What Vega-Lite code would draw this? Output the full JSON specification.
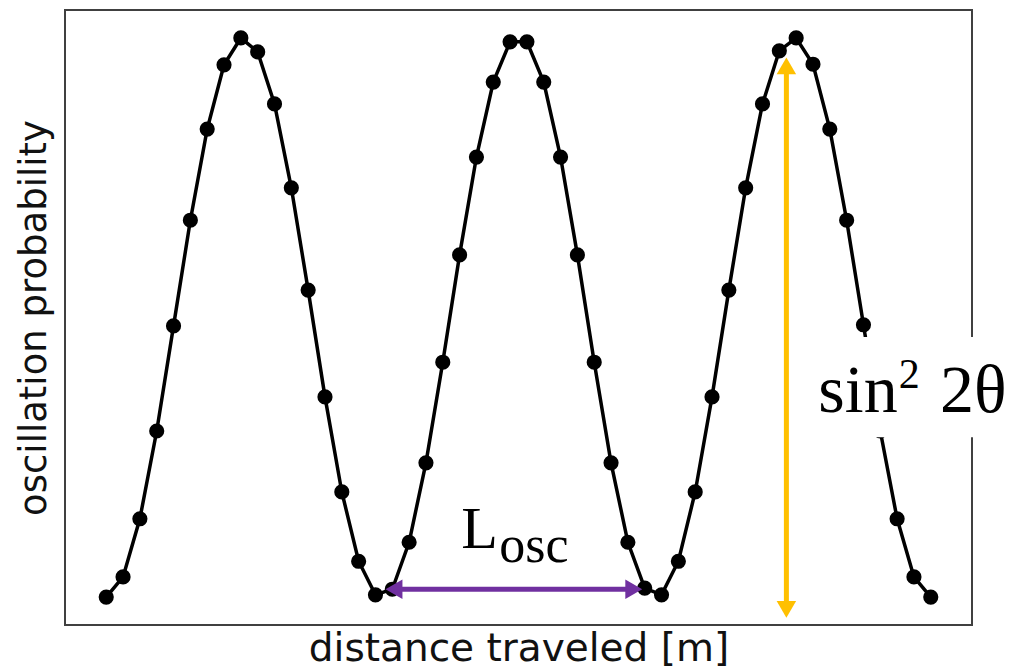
{
  "$schema": "https://vega.github.io/schema/vega-lite/v6.json",
  "width": 907,
  "height": 615,
  "autosize": {"type": "none"},
  "padding": {"left": 65, "top": 10, "right": 38, "bottom": 44},
  "background": "white",
  "config": {
    "view": {"stroke": "#404040", "strokeWidth": 2},
    "axis": {"ticks": false, "labels": false, "domain": false, "grid": false, "titleFont": "DejaVu Sans", "titleFontWeight": "normal", "titleColor": "#111"},
    "axisX": {"titleFontSize": 39, "titlePadding": 4},
    "axisY": {"titleFontSize": 37, "titlePadding": 12}
  },
  "datasets": {
    "curve": [
      {"d": 0, "p": 0.000}, {"d": 1, "p": 0.036}, {"d": 2, "p": 0.140}, {"d": 3, "p": 0.297}, {"d": 4, "p": 0.485},
      {"d": 5, "p": 0.674}, {"d": 6, "p": 0.837}, {"d": 7, "p": 0.952}, {"d": 8, "p": 1.000}, {"d": 9, "p": 0.975},
      {"d": 10, "p": 0.882}, {"d": 11, "p": 0.732}, {"d": 12, "p": 0.549}, {"d": 13, "p": 0.358}, {"d": 14, "p": 0.188},
      {"d": 15, "p": 0.064}, {"d": 16, "p": 0.004}, {"d": 17, "p": 0.014}, {"d": 18, "p": 0.098}, {"d": 19, "p": 0.240},
      {"d": 20, "p": 0.420}, {"d": 21, "p": 0.612}, {"d": 22, "p": 0.787}, {"d": 23, "p": 0.921}, {"d": 24, "p": 0.993},
      {"d": 25, "p": 0.993}, {"d": 26, "p": 0.921}, {"d": 27, "p": 0.787}, {"d": 28, "p": 0.612}, {"d": 29, "p": 0.420},
      {"d": 30, "p": 0.240}, {"d": 31, "p": 0.098}, {"d": 32, "p": 0.016}, {"d": 33, "p": 0.004}, {"d": 34, "p": 0.064},
      {"d": 35, "p": 0.188}, {"d": 36, "p": 0.358}, {"d": 37, "p": 0.549}, {"d": 38, "p": 0.732}, {"d": 39, "p": 0.882},
      {"d": 40, "p": 0.977}, {"d": 41, "p": 1.000}, {"d": 42, "p": 0.953}, {"d": 43, "p": 0.837}, {"d": 44, "p": 0.674},
      {"d": 45, "p": 0.487}, {"d": 46, "p": 0.297}, {"d": 47, "p": 0.140}, {"d": 48, "p": 0.036}, {"d": 49, "p": 0.000}
    ],
    "box": [{"d": 41.73, "d2": 53.75, "p": 0.465, "p2": 0.286}],
    "sinLabel": [{"d": 42.32, "p": 0.331, "t": "sin"}],
    "supLabel": [{"d": 47.1, "p": 0.374, "t": "2"}],
    "thetaLabel": [{"d": 49.55, "p": 0.331, "t": "2θ"}],
    "purpleLine": [{"d": 17.3, "d2": 31.2, "p": 0.014}],
    "purpleLeft": [{"d": 17.1, "p": 0.014}],
    "purpleRight": [{"d": 31.35, "p": 0.014}],
    "yellowLine": [{"d": 40.42, "p": 0.945, "p2": -0.015}],
    "yellowUp": [{"d": 40.42, "p": 0.95}],
    "yellowDown": [{"d": 40.42, "p": -0.022}],
    "lLabel": [{"d": 21.1, "p": 0.088, "t": "L"}],
    "oscLabel": [{"d": 23.35, "p": 0.063, "t": "osc"}]
  },
  "encoding": {
    "x": {"field": "d", "type": "quantitative", "title": "distance traveled [m]", "scale": {"domain": [-2.45, 51.45], "nice": false, "zero": false}},
    "y": {"field": "p", "type": "quantitative", "title": "oscillation probability", "scale": {"domain": [-0.05, 1.05], "nice": false, "zero": false}}
  },
  "layer": [
    {"data": {"name": "curve"}, "mark": {"type": "line", "color": "black", "strokeWidth": 3.5}},
    {"data": {"name": "curve"}, "mark": {"type": "point", "filled": true, "color": "black", "size": 230, "opacity": 1}},
    {"data": {"name": "purpleLine"}, "mark": {"type": "rule", "color": "#7030A0", "strokeWidth": 5}, "encoding": {"x2": {"field": "d2"}}},
    {"data": {"name": "purpleLeft"}, "mark": {"type": "point", "shape": "triangle-left", "filled": true, "color": "#7030A0", "size": 380, "opacity": 1}},
    {"data": {"name": "purpleRight"}, "mark": {"type": "point", "shape": "triangle-right", "filled": true, "color": "#7030A0", "size": 380, "opacity": 1}},
    {"data": {"name": "yellowLine"}, "mark": {"type": "rule", "color": "#FFC000", "strokeWidth": 5}, "encoding": {"y2": {"field": "p2"}}},
    {"data": {"name": "yellowUp"}, "mark": {"type": "point", "shape": "triangle-up", "filled": true, "color": "#FFC000", "size": 380, "opacity": 1}},
    {"data": {"name": "yellowDown"}, "mark": {"type": "point", "shape": "triangle-down", "filled": true, "color": "#FFC000", "size": 380, "opacity": 1}},
    {"data": {"name": "box"}, "mark": {"type": "rect", "color": "white", "opacity": 1, "clip": false}, "encoding": {"x2": {"field": "d2"}, "y2": {"field": "p2"}}},
    {"data": {"name": "sinLabel"}, "mark": {"type": "text", "font": "Liberation Serif", "fontSize": 68, "align": "left", "baseline": "alphabetic", "color": "black"}, "encoding": {"text": {"field": "t"}}},
    {"data": {"name": "supLabel"}, "mark": {"type": "text", "font": "Liberation Serif", "fontSize": 42, "align": "left", "baseline": "alphabetic", "color": "black"}, "encoding": {"text": {"field": "t"}}},
    {"data": {"name": "thetaLabel"}, "mark": {"type": "text", "font": "Liberation Serif", "fontSize": 68, "align": "left", "baseline": "alphabetic", "color": "black"}, "encoding": {"text": {"field": "t"}}},
    {"data": {"name": "lLabel"}, "mark": {"type": "text", "font": "Liberation Serif", "fontSize": 60, "align": "left", "baseline": "alphabetic", "color": "black"}, "encoding": {"text": {"field": "t"}}},
    {"data": {"name": "oscLabel"}, "mark": {"type": "text", "font": "Liberation Serif", "fontSize": 52, "align": "left", "baseline": "alphabetic", "color": "black"}, "encoding": {"text": {"field": "t"}}}
  ]
}
